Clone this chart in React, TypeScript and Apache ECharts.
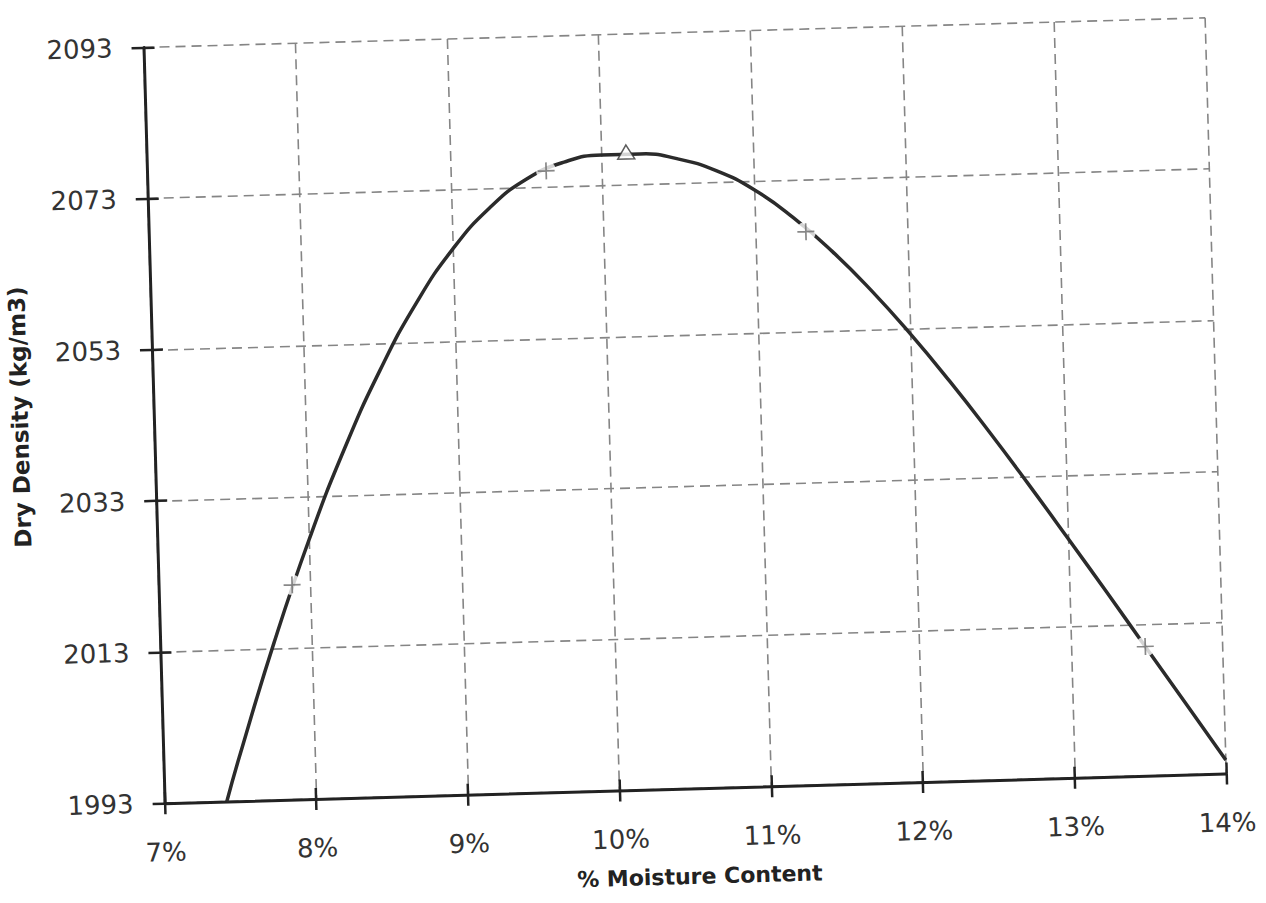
import React, { useEffect, useRef } from "react";
import * as echarts from "echarts";

// Smoothed compaction curve (moisture %, dry density kg/m3)
const curveX = [7.41, 7.5, 7.75, 8.0, 8.25, 8.5, 8.75, 9.0, 9.25, 9.5, 9.75, 10.0, 10.25, 10.5, 10.75, 11.0, 11.25, 11.5, 11.75, 12.0, 12.25, 12.5, 12.75, 13.0, 13.25, 13.5, 13.75, 14.0];
const curveY = [1993, 1998.8, 2013.8, 2027.3, 2039.2, 2049.5, 2058.2, 2065.2, 2070.5, 2074.2, 2076.3, 2077.1, 2077.1, 2076.3, 2074.6, 2071.9, 2068.1, 2063.5, 2058.2, 2052.3, 2045.9, 2039.1, 2032.0, 2024.7, 2017.3, 2009.8, 2002.3, 1994.8];

// Measured test points (+ markers)
const pointX = [7.88, 9.63, 11.33, 13.49];
const pointY = [2021.4, 2075.2, 2066.2, 2010.1];

// Maximum dry density (triangle)
const peakX = [10.16];
const peakY = [2077.4];

const xMin = 7;
const xMax = 14;
const yTicks = [1993, 2013, 2033, 2053, 2073, 2093];

const xTitle = "% Moisture Content";
const yTitle = "Dry Density (kg/m3)";

const FONT = '"DejaVu Sans", "Liberation Sans", sans-serif';

export default function App() {
  const ref = useRef<HTMLDivElement>(null);
  useEffect(() => {
    const chart = echarts.init(ref.current!, null, { renderer: "svg" });
    const yMin = yTicks[0];
    const yMax = yTicks[yTicks.length - 1];
    const yInt = yTicks[1] - yTicks[0];
    const grid = "#858585";
    const dark = "#222";
    chart.setOption({
      animation: false,
      backgroundColor: "#fff",
      grid: { left: 155, right: 49, top: 34, bottom: 113, containLabel: false },
      xAxis: [
        {
          type: "value",
          min: xMin,
          max: xMax,
          interval: 1,
          axisLine: { show: true, onZero: false, lineStyle: { color: dark, width: 3 } },
          axisTick: { show: true, length: 11, lineStyle: { color: dark, width: 2.5 } },
          axisLabel: {
            formatter: (v: number) => v + "%",
            margin: 36,
            fontSize: 26,
            fontFamily: FONT,
            color: "#333",
          },
          splitLine: { show: true, lineStyle: { color: grid, width: 1.6, type: [10, 6] } },
        },
        {
          type: "value",
          min: xMin,
          max: xMax,
          interval: 1,
          position: "bottom",
          axisLine: { show: false },
          axisTick: { show: true, inside: true, length: 11, lineStyle: { color: dark, width: 2.5 } },
          axisLabel: { show: false },
          splitLine: { show: false },
        },
      ],
      yAxis: [
        {
          type: "value",
          min: yMin,
          max: yMax,
          interval: yInt,
          axisLine: { show: true, onZero: false, lineStyle: { color: dark, width: 3 } },
          axisTick: { show: true, length: 12, lineStyle: { color: dark, width: 2.5 } },
          axisLabel: {
            formatter: (v: number) => String(v),
            margin: 31,
            fontSize: 26,
            fontFamily: FONT,
            color: "#333",
          },
          splitLine: { show: true, lineStyle: { color: grid, width: 1.6, type: [10, 6] } },
        },
        {
          type: "value",
          min: yMin,
          max: yMax,
          interval: yInt,
          position: "left",
          axisLine: { show: false },
          axisTick: { show: true, inside: true, length: 11, lineStyle: { color: dark, width: 2.5 } },
          axisLabel: { show: false },
          splitLine: { show: false },
        },
      ],
      series: [
        {
          type: "line",
          data: curveX.map((x, i) => [x, curveY[i]]),
          smooth: 0.5,
          showSymbol: false,
          lineStyle: { color: "#2b2b2b", width: 3.5 },
          z: 2,
        },
        {
          type: "scatter",
          data: pointX.map((x, i) => [x, pointY[i]]),
          symbol: "circle",
          symbolSize: 20,
          itemStyle: { color: "#fff" },
          z: 3,
          silent: true,
        },
        {
          type: "scatter",
          data: pointX.map((x, i) => [x, pointY[i]]),
          symbol: "path://M8,0V16M0,8H16",
          symbolSize: 17,
          itemStyle: { color: "rgba(0,0,0,0)", borderColor: "#6a6a6a", borderWidth: 1.7 },
          z: 4,
        },
        {
          type: "scatter",
          data: peakX.map((x, i) => [x, peakY[i]]),
          symbol: "triangle",
          symbolSize: [17, 14],
          itemStyle: { color: "#fff", borderColor: "#333", borderWidth: 1.5 },
          z: 5,
        },
      ],
      graphic: [
        {
          type: "text",
          x: 21,
          y: 400,
          rotation: Math.PI / 2,
          style: {
            text: yTitle,
            fontSize: 23,
            fontWeight: "bold",
            fontFamily: FONT,
            fill: "#222",
            align: "center",
            verticalAlign: "middle",
          },
        },
        {
          type: "text",
          x: 688,
          y: 878,
          style: {
            text: xTitle,
            fontSize: 22,
            fontWeight: "bold",
            fontFamily: FONT,
            fill: "#222",
            align: "center",
            verticalAlign: "middle",
          },
        },
      ],
    });
    return () => chart.dispose();
  }, []);
  return (
    <div
      style={{
        position: "fixed",
        left: 0,
        top: 0,
        width: 1266,
        height: 903,
        overflow: "hidden",
        background: "#fff",
      }}
    >
      <div
        ref={ref}
        style={{
          width: 1266,
          height: 903,
          transform: "rotate(-1.6deg)",
          transformOrigin: "633px 451.5px",
        }}
      />
    </div>
  );
}
